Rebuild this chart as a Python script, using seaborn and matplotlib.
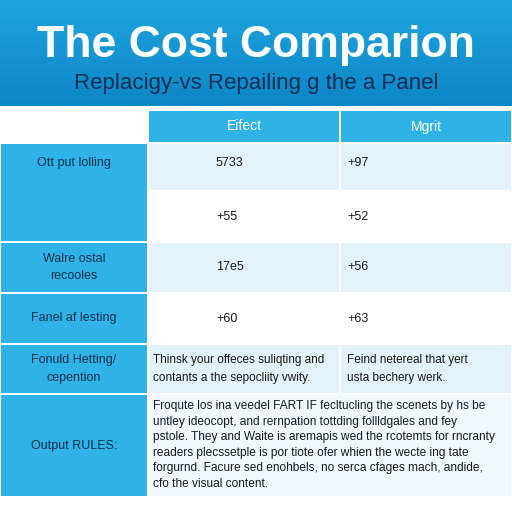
import numpy as np
import seaborn as sns
import matplotlib.pyplot as plt
from matplotlib.patches import Rectangle

sns.set_theme(style="white")
plt.rcParams['font.family'] = ['Liberation Sans', 'DejaVu Sans']

title = "The Cost Comparion"
subtitle = "Replacigy-vs Repailing g the a Panel"
col_headers = ["Eifect", "Mgrit"]
row_labels = ["Ott put lolling", "", "Walre ostal\nrecooles", "Fanel af lesting",
              "Fonuld Hetting/\ncepention", "Output RULES:"]
effect = ["5733", "+55", "17e5", "+60",
          "Thinsk your offeces suliqting and\ncontants a the sepocliity vwity.", ""]
merit = ["+97", "+52", "+56", "+63",
         "Feind netereal that yert\nusta bechery werk.", ""]
notes = ("Froqute los ina veedel FART IF fecltucling the scenets by hs be\n"
         "untley ideocopt, and rernpation tottding follldgales and fey\n"
         "pstole. They and Waite is aremapis wed the rcotemts for rncranty\n"
         "readers plecssetple is por tiote ofer whien the wecte ing tate\n"
         "forgurnd. Facure sed enohbels, no serca cfages mach, andide,\n"
         "cfo the visual content.")

# layout in pixels
col_edges = [0, 148, 340, 512]
row_edges = [110, 143, 191, 242, 293, 344, 394, 497]
row_fill = ["#e2f1fa", "#ffffff", "#e2f1fa", "#ffffff", "#e2f1fa", "#f0f8fd"]
blue = "#2fb2e6"

fig = plt.figure(figsize=(5.12, 5.12), dpi=100)
ax = fig.add_axes([0, 0, 1, 1])
ax.set_xlim(0, 512)
ax.set_ylim(512, 0)
ax.axis("off")

# banner gradient
grad = np.linspace(0, 1, 100).reshape(-1, 1)
ax.imshow(grad, extent=[0, 512, 106, 0], aspect="auto",
          cmap=sns.blend_palette(["#1ea5de", "#0d86c6"], as_cmap=True), zorder=0)
ax.text(256, 46, title, ha="center", va="center", fontsize=32, fontweight="bold", color="white")
ax.text(256, 84, subtitle, ha="center", va="center", fontsize=16, color="#0c2f55")

def cell(x0, x1, y0, y1, color):
    ax.add_patch(Rectangle((x0 + 1, y0 + 1), x1 - x0 - 2, y1 - y0 - 2, color=color, lw=0, zorder=1))

# header row
for j, h in enumerate(col_headers):
    x0, x1 = col_edges[j + 1], col_edges[j + 2]
    cell(x0, x1, row_edges[0], row_edges[1], blue)
    ax.text((x0 + x1) / 2, (row_edges[0] + row_edges[1]) / 2, h, ha="center", va="center",
            fontsize=10, color="white")

last = len(row_labels) - 1
for i in range(len(row_labels)):
    y0, y1 = row_edges[i + 1], row_edges[i + 2]
    ym = (y0 + y1) / 2
    if i == last:
        cell(col_edges[1], col_edges[3], y0, y1, row_fill[i])
    else:
        cell(col_edges[1], col_edges[2], y0, y1, row_fill[i])
        cell(col_edges[2], col_edges[3], y0, y1, row_fill[i])
    if i == 1:
        pass
    elif i == 0:
        cell(col_edges[0], col_edges[1], y0, row_edges[i + 3], blue)
    else:
        cell(col_edges[0], col_edges[1], y0, y1, blue)
    ty = ym if i != 0 else ym - 4
    if row_labels[i]:
        ax.text(74, ty, row_labels[i], ha="center", va="center", fontsize=9,
                color="#10304f", linespacing=1.6)
    long_text = "\n" in effect[i]
    ax.text(153 if long_text else 216, ty, effect[i], ha="left", va="center",
            fontsize=8.5 if long_text else 9, color="#1a1a1a", linespacing=1.6)
    ax.text(347, ty, merit[i], ha="left", va="center",
            fontsize=8.5 if long_text else 9, color="#1a1a1a", linespacing=1.6)

ax.text(153, 445, notes, ha="left", va="center", fontsize=8.6, color="#1a1a1a", linespacing=1.4)

fig.savefig("out.png", dpi=100)
